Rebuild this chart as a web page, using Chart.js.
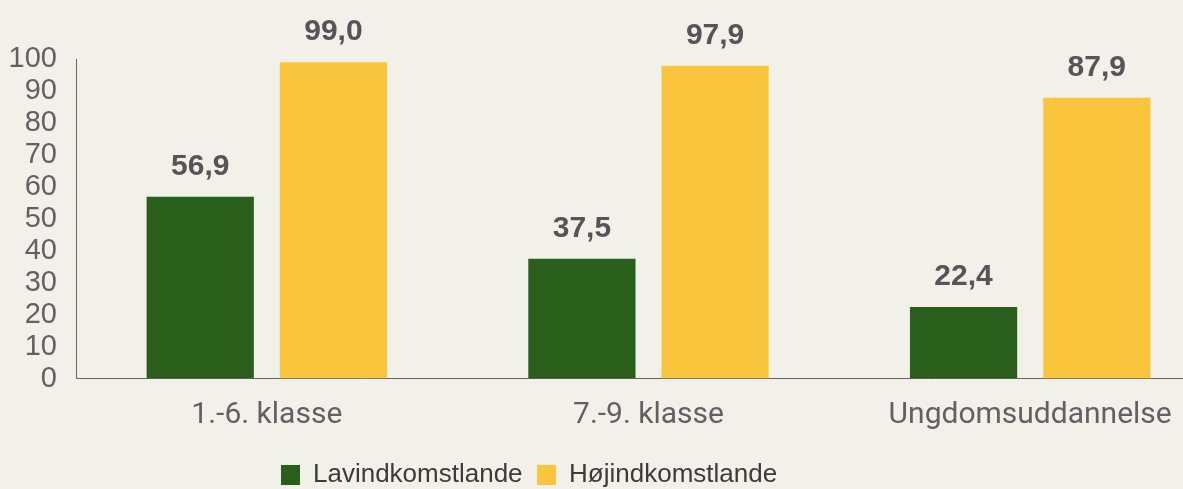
<!DOCTYPE html>
<html>
<head>
<meta charset="utf-8">
<script src="https://cdn.jsdelivr.net/npm/chart.js@4"></script>
<style>
  html, body { margin: 0; padding: 0; background: #f2f1e9; overflow: hidden; }
  #wrap { position: relative; width: 1221px; height: 503px; }
</style>
</head>
<body>
<div id="wrap"><canvas id="chart"></canvas></div>
<script>
const categories = ['1.-6. klasse', '7.-9. klasse', 'Ungdomsuddannelse']
const lavValues = [56.9, 37.5, 22.4]
const hojValues = [99.0, 97.9, 87.9]
const seriesNames = ['Lavindkomstlande', 'Højindkomstlande']

const FONT = "'Liberation Sans', Arial, sans-serif"
const TEXT = '#675d65'

// value labels above each bar
const valueLabels = {
  id: 'valueLabels',
  afterDatasetsDraw(chart) {
    const ctx = chart.ctx
    ctx.save()
    ctx.font = `bold 30px ${FONT}`
    ctx.fillStyle = '#5b5159'
    ctx.textAlign = 'center'
    ctx.textBaseline = 'alphabetic'
    chart.data.datasets.forEach((ds, i) => {
      chart.getDatasetMeta(i).data.forEach((bar, j) => {
        const txt = ds.data[j].toFixed(1).replace('.', ',')
        ctx.fillText(txt, bar.x, bar.y - 22)
      })
    })
    ctx.restore()
  }
}

// move the legend to where it sits in the reference
const legendShift = {
  id: 'legendShift',
  afterLayout(chart) {
    const leg = chart.legend
    if (!leg) return
    const pad = leg.options.labels.padding
    leg.left = 281 - pad
    leg.right = leg.left + 2000
    leg.top -= 5
    leg.bottom -= 5
  }
}

new Chart(document.getElementById('chart'), {
  type: 'bar',
  data: {
    labels: categories,
    datasets: [
      { label: seriesNames[0], data: lavValues, backgroundColor: '#295e1b' },
      { label: seriesNames[1], data: hojValues, backgroundColor: '#f9c53c' }
    ]
  },
  options: {
    responsive: true,
    maintainAspectRatio: false,
    devicePixelRatio: 1,
    animation: false,
    categoryPercentage: 0.698,
    barPercentage: 0.805,
    layout: { padding: { top: 59, left: 0, right: 0, bottom: 0 } },
    plugins: {
      tooltip: { enabled: false },
      legend: {
        position: 'bottom',
        align: 'start',
        labels: {
          font: { family: FONT, size: 26 },
          color: '#3d3a3c',
          boxWidth: 19,
          boxHeight: 20,
          padding: 14.5
        }
      }
    },
    scales: {
      x: {
        grid: { display: false, drawTicks: false },
        border: { display: true, color: '#6b6068', width: 1 },
        ticks: {
          font: { family: "Roboto, 'Liberation Sans', sans-serif", size: 30 },
          color: TEXT,
          padding: 19
        }
      },
      y: {
        min: 0,
        max: 100,
        afterFit(scale) { scale.width = 76 },
        grid: { display: false, drawTicks: false },
        border: { display: true, color: '#6b6068', width: 1 },
        ticks: {
          stepSize: 10,
          autoSkip: false,
          font: { family: FONT, size: 29 },
          color: TEXT,
          padding: 19
        }
      }
    }
  },
  plugins: [valueLabels, legendShift]
})
</script>
</body>
</html>
